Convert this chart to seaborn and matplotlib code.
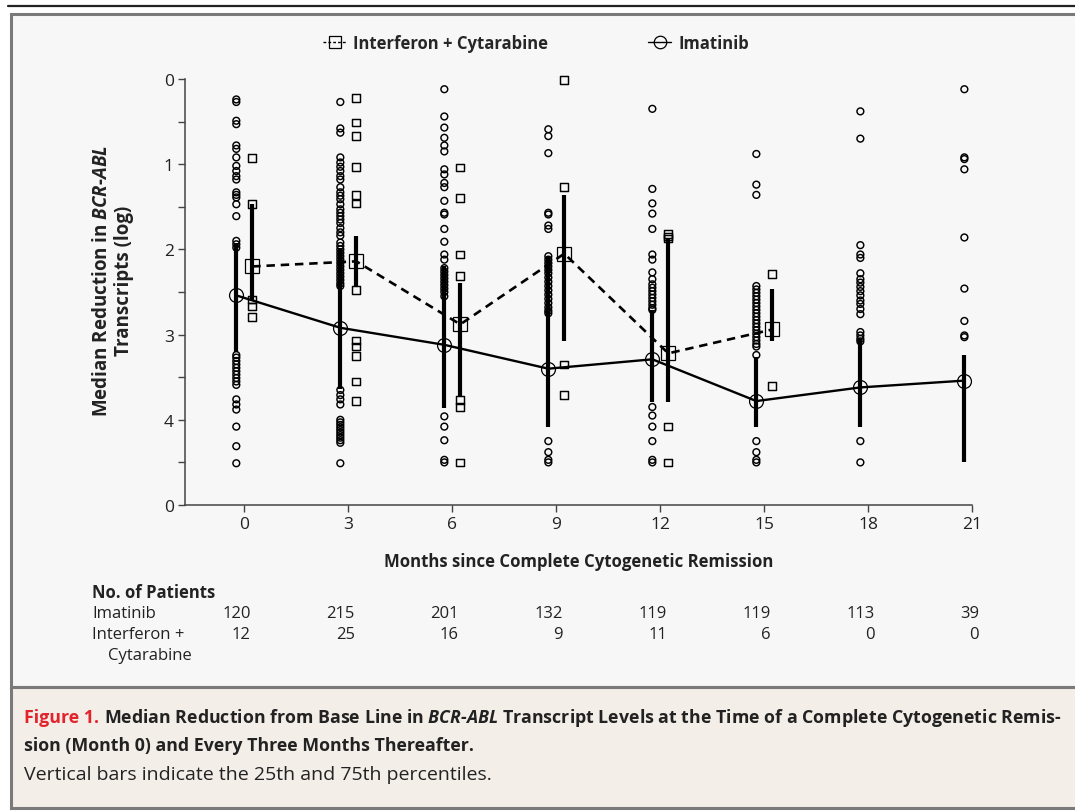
import matplotlib
matplotlib.use('Agg')
import matplotlib.pyplot as plt
from matplotlib import font_manager
from matplotlib.lines import Line2D
from matplotlib.patches import Rectangle
import matplotlib.transforms as mtransforms
import pandas as pd
import seaborn as sns

# ---- data ----
months = [0, 3, 6, 9, 12, 15, 18, 21]
ifn_months = [0, 3, 6, 9, 12, 15]

# individual patients (log reduction), imatinib, one list per visit
imatinib_points = [
    [0.24, 0.27, 0.49, 0.53, 0.78, 0.82, 0.92, 1.02, 1.08, 1.14, 1.18, 1.33, 1.36, 1.39,
     1.47, 1.61, 1.90, 1.94, 1.98, 3.24, 3.27, 3.31, 3.35, 3.39, 3.43, 3.47, 3.51, 3.55,
     3.59, 3.76, 3.82, 3.88, 4.08, 4.31, 4.51],
    [0.27, 0.58, 0.63, 0.92, 0.98, 1.03, 1.08, 1.14, 1.18, 1.27, 1.33, 1.37, 1.41, 1.47,
     1.53, 1.57, 1.61, 1.65, 1.69, 1.75, 1.80, 1.84, 1.92, 1.96, 2.00, 2.04, 2.08, 2.12,
     2.16, 2.20, 2.24, 2.28, 2.32, 2.36, 2.40, 2.43, 3.65, 3.71, 3.76, 3.82, 4.00, 4.03,
     4.06, 4.09, 4.12, 4.15, 4.18, 4.21, 4.24, 4.27, 4.51],
    [0.12, 0.44, 0.57, 0.69, 0.78, 0.85, 1.06, 1.12, 1.22, 1.27, 1.43, 1.57, 1.59, 1.76,
     1.91, 2.06, 2.12, 2.22, 2.26, 2.30, 2.34, 2.38, 2.42, 2.46, 2.50, 2.55, 3.96, 4.08,
     4.24, 4.47, 4.50],
    [0.59, 0.67, 0.87, 1.57, 1.59, 1.72, 1.76, 2.08, 2.12, 2.16, 2.20, 2.24, 2.28, 2.33,
     2.38, 2.43, 2.48, 2.53, 2.58, 2.63, 2.68, 2.72, 2.75, 4.25, 4.38, 4.47, 4.50],
    [0.35, 1.29, 1.46, 1.58, 1.76, 2.06, 2.12, 2.27, 2.35, 2.41, 2.45, 2.49, 2.53, 2.57,
     2.61, 2.65, 2.69, 2.71, 3.85, 3.95, 4.08, 4.25, 4.47, 4.50],
    [0.88, 1.24, 1.36, 2.43, 2.47, 2.51, 2.55, 2.59, 2.63, 2.67, 2.71, 2.75, 2.79, 2.83,
     2.87, 2.91, 2.95, 2.99, 3.03, 3.07, 3.11, 3.14, 3.24, 4.25, 4.38, 4.47, 4.50],
    [0.38, 0.70, 1.95, 2.06, 2.10, 2.28, 2.35, 2.39, 2.44, 2.49, 2.54, 2.60, 2.64, 2.70,
     2.76, 2.97, 3.01, 3.05, 3.08, 4.25, 4.50],
    [0.12, 0.92, 0.94, 1.06, 1.86, 2.46, 2.84, 3.01, 3.03],
]
interferon_points = [
    [0.93, 1.47, 2.59, 2.67, 2.79],
    [0.22, 0.51, 0.67, 1.03, 1.36, 1.46, 2.48, 3.07, 3.14, 3.25, 3.55, 3.78],
    [1.04, 1.40, 2.06, 2.31, 3.77, 3.85, 4.50],
    [0.01, 1.27, 3.35, 3.71],
    [1.82, 1.85, 1.87, 4.08, 4.50],
    [2.29, 3.60],
]

imatinib_median = [2.54, 2.92, 3.12, 3.40, 3.29, 3.78, 3.62, 3.54]
imatinib_q25 = [1.92, 1.98, 2.20, 2.08, 2.71, 3.26, 3.05, 3.24]
imatinib_q75 = [3.21, 3.64, 3.86, 4.08, 3.79, 4.08, 4.08, 4.49]

interferon_median = [2.20, 2.14, 2.88, 2.05, 3.22, 2.94]
interferon_q25 = [1.47, 1.84, 2.40, 1.36, 1.88, 2.46]
interferon_q75 = [2.61, 2.43, 3.73, 3.08, 3.79, 3.08]

n_imatinib = [120, 215, 201, 132, 119, 119, 113, 39]
n_interferon = [12, 25, 16, 9, 11, 6, 0, 0]

y_ticks = [0, 1, 2, 3, 4, 5]
y_tick_labels = ['0', '1', '2', '3', '4', '0']

# ---- style ----
sns.set_style('ticks')
names = {f.name for f in font_manager.fontManager.ttflist}
FONT = 'Liberation Sans Narrow' if 'Liberation Sans Narrow' in names else 'Open Sans'
plt.rcParams['font.family'] = [FONT, 'DejaVu Sans']
plt.rcParams['mathtext.fontset'] = 'custom'
plt.rcParams['mathtext.bfit'] = FONT + ':italic:bold'
plt.rcParams['mathtext.it'] = FONT + ':italic'

INK = '#222222'
W, H = 1075, 812
fx = lambda px: px / W
fy = lambda py: 1 - py / H

dodge = {'Imatinib': -0.22, 'Interferon': 0.24}

rows = []
for m, vals in zip(months, imatinib_points):
    rows += [(m, v, 'Imatinib') for v in vals]
for m, vals in zip(ifn_months, interferon_points):
    rows += [(m, v, 'Interferon') for v in vals]
pts = pd.DataFrame(rows, columns=['month', 'value', 'group'])
pts['x'] = pts['month'] + pts['group'].map(dodge)

summ_ima = pd.DataFrame({'month': months, 'median': imatinib_median,
                         'q25': imatinib_q25, 'q75': imatinib_q75})
summ_ima['x'] = summ_ima['month'] + dodge['Imatinib']
summ_ifn = pd.DataFrame({'month': ifn_months, 'median': interferon_median,
                         'q25': interferon_q25, 'q75': interferon_q75})
summ_ifn['x'] = summ_ifn['month'] + dodge['Interferon']

fig = plt.figure(figsize=(W / 100, H / 100), dpi=100, facecolor='white')

# page frame
fig.add_artist(Line2D([fx(8), 1.0], [fy(7), fy(7)], color=INK, lw=1.6))
fig.add_artist(Rectangle((fx(11), fy(688)), 1.0, fy(15) - fy(688), transform=fig.transFigure,
                         fc='#f7f7f7', ec='#7a7a7a', lw=2.2, zorder=0))
fig.add_artist(Rectangle((fx(11), fy(809)), 1.0, fy(688) - fy(809), transform=fig.transFigure,
                         fc='#f3eee8', ec='#7a7a7a', lw=2.2, zorder=0))

ax = fig.add_axes([fx(185), fy(506), fx(972) - fx(185), fy(80) - fy(506)])
ax.set_facecolor('none')

sub = pts[pts.group == 'Imatinib']
sns.scatterplot(data=sub, x='x', y='value', ax=ax, marker='o', s=24,
                facecolor='none', edgecolor='black', linewidth=1.05, clip_on=False, zorder=2)
sub = pts[pts.group == 'Interferon']
sns.scatterplot(data=sub, x='x', y='value', ax=ax, marker='s', s=30,
                facecolor='none', edgecolor='black', linewidth=1.05, clip_on=False, zorder=2)

ax.vlines(summ_ima['x'], summ_ima['q25'], summ_ima['q75'], color='black', lw=3.0, zorder=3)
ax.vlines(summ_ifn['x'], summ_ifn['q25'], summ_ifn['q75'], color='black', lw=3.0, zorder=3)

sns.lineplot(data=summ_ima, x='x', y='median', ax=ax, color='black', lw=1.7,
             marker='o', ms=10, mfc='none', mec='black', mew=0.9, zorder=4)
sns.lineplot(data=summ_ifn, x='x', y='median', ax=ax, color='black', lw=1.9,
             dashes=(3.2, 2.2), marker='s', ms=10, mfc='none', mec='black', mew=0.9, zorder=4)

ax.set_xlim(-1.70, 21)
ax.set_ylim(5, 0)
ax.set_xticks(months)
ax.set_xticklabels([str(m) for m in months])
ax.set_yticks(y_ticks)
ax.set_yticklabels(y_tick_labels)
ax.set_yticks([0.5, 1.5, 2.5, 3.5, 4.5], minor=True)
ax.tick_params(axis='both', which='both', length=5, width=1, color='#444444',
               labelsize=12.5, labelcolor=INK, pad=3)
for side in ['top', 'right']:
    ax.spines[side].set_visible(False)
for side in ['left', 'bottom']:
    ax.spines[side].set_color('#444444')
    ax.spines[side].set_linewidth(1.1)

ax.set_xlabel('Months since Complete Cytogenetic Remission', fontsize=12.1,
              fontweight='bold', color=INK, labelpad=14)
ax.set_ylabel('Median Reduction in $\\mathbfit{BCR}$-$\\mathbfit{ABL}$\nTranscripts (log)',
              fontsize=13.5, fontweight='bold', color=INK, linespacing=1.1)
ax.yaxis.set_label_coords(-0.065, 0.528)

# legend
handles = [
    Line2D([], [], color='black', lw=1.0, ls=(0, (2, 1.5)), marker='s', ms=8,
           mfc='none', mec='black', mew=0.9),
    Line2D([], [], color='black', lw=1.0, marker='o', ms=9, mfc='none', mec='black', mew=0.9),
]
fig.legend(handles, ['Interferon + Cytarabine', 'Imatinib'], loc='center',
           bbox_to_anchor=(fx(536), fy(44)), ncol=2, frameon=False, handlelength=1.4,
           handletextpad=0.4, columnspacing=6.0, prop={'weight': 'bold', 'size': 12})

# number-at-risk table
trans = mtransforms.blended_transform_factory(ax.transData, fig.transFigure)
fig.text(fx(92), fy(593), 'No. of Patients', fontsize=12, fontweight='bold', color=INK, va='center')
fig.text(fx(92), fy(614), 'Imatinib', fontsize=12, color=INK, va='center')
fig.text(fx(92), fy(635), 'Interferon +', fontsize=12, color=INK, va='center')
fig.text(fx(108), fy(656), 'Cytarabine', fontsize=12, color=INK, va='center')
for m, a, b in zip(months, n_imatinib, n_interferon):
    ax.text(m + 0.2, fy(614), str(a), transform=trans, ha='right', va='center', fontsize=12, color=INK)
    ax.text(m + 0.2, fy(635), str(b), transform=trans, ha='right', va='center', fontsize=12, color=INK)

# caption
renderer = fig.canvas.get_renderer()
t_fig = fig.text(fx(24), fy(718), 'Figure 1.', fontsize=12.75, fontweight='bold',
                 color='#e2232b', va='center')
bb = t_fig.get_window_extent(renderer)
fig.text(bb.x1 / W + fx(5), fy(718),
         'Median Reduction from Base Line in $\\mathbfit{BCR}$-$\\mathbfit{ABL}$ Transcript Levels '
         'at the Time of a Complete Cytogenetic Remis-',
         fontsize=12.75, fontweight='bold', color=INK, va='center')
fig.text(fx(24), fy(746), 'sion (Month 0) and Every Three Months Thereafter.', fontsize=12.75,
         fontweight='bold', color=INK, va='center')
fig.text(fx(24), fy(775), 'Vertical bars indicate the 25th and 75th percentiles.', fontsize=14,
         color=INK, va='center')

fig.savefig('out.png', dpi=100, facecolor=fig.get_facecolor())
